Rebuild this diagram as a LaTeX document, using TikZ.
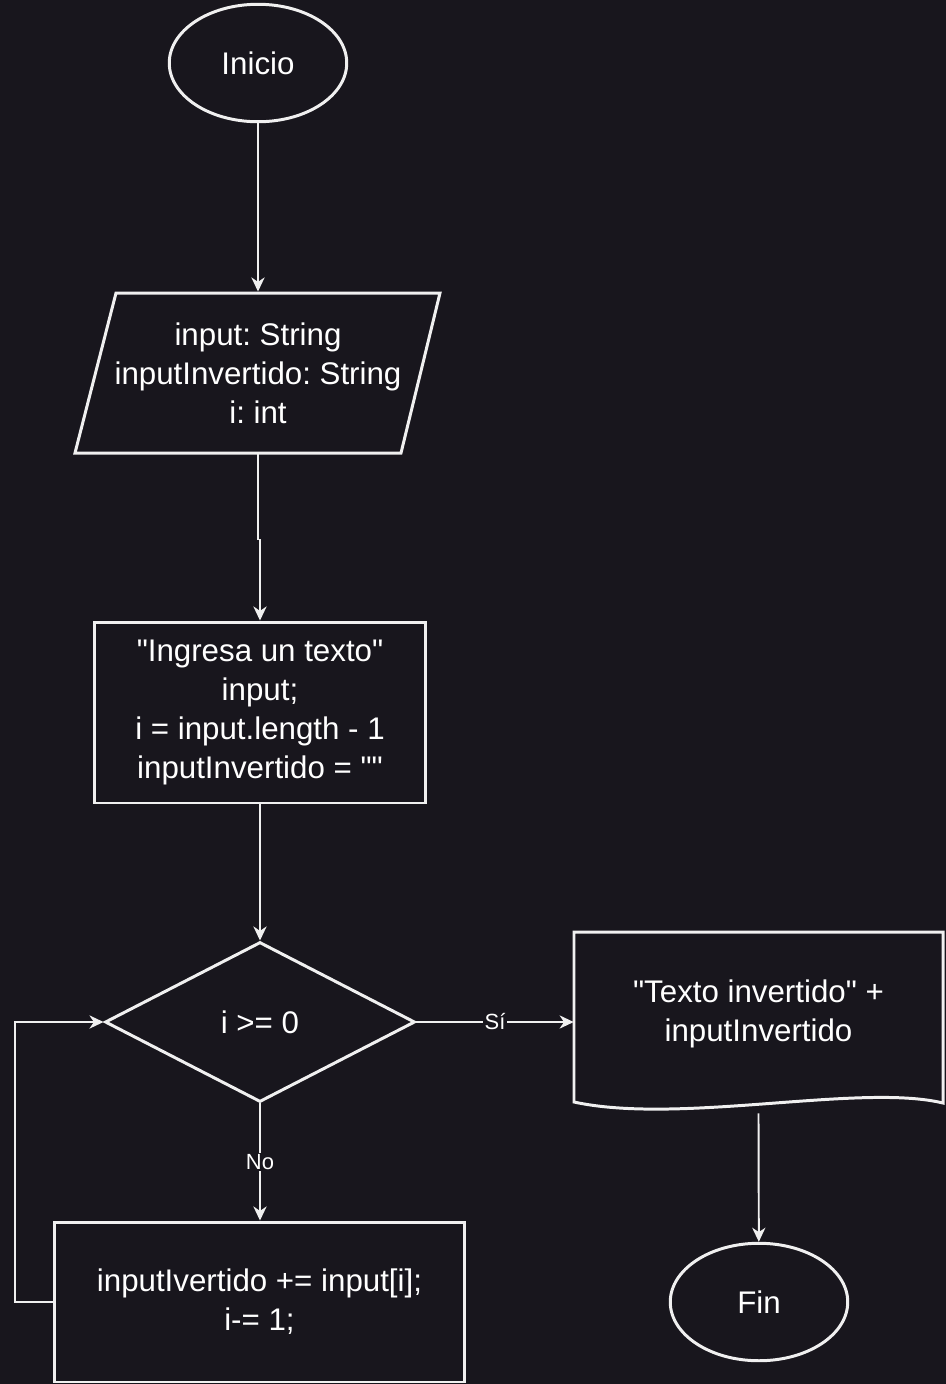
\documentclass[tikz,border=0pt]{standalone}
\usepackage{fontspec}
\setmainfont{Liberation Sans}
\usetikzlibrary{shapes.geometric,arrows.meta}
\definecolor{fondo}{RGB}{24,22,29}
\definecolor{trazo}{RGB}{240,240,240}
\newcommand{\comilla}{\textquotedbl}
\frenchspacing

\begin{document}
\begin{tikzpicture}[x=0.02cm,y=-0.02cm,
		caja/.style={draw=trazo,line width=1.7pt,fill=fondo,text=white,align=center,inner sep=0pt,font=\fontsize{17.8}{22.1}\selectfont},
		flujo/.style={draw=trazo,line width=1.1pt,-{Stealth[length=8pt,width=7.5pt,inset=2.5pt]}},
		etiqueta/.style={fill=fondo,text=white,inner sep=1pt,font=\fontsize{12.5}{15}\selectfont}]
		\path[use as bounding box,fill=fondo] (0,0) rectangle (946,1384);
		\node[caja,ellipse,minimum width=3.55cm,minimum height=2.35cm] (inicio) at (258,63) {Inicio};
		\draw[caja] (116,293) -- (440,293) -- (401,453) -- (75,453) -- cycle;
		\node[caja,draw=none,fill=none,minimum width=5cm,minimum height=3.2cm] (vars) at (258,373) {input: String\\inputInvertido: String\\i: int};
		\node[caja,minimum width=6.64cm,minimum height=3.62cm] (proc) at (260,712.5) {\comilla Ingresa un texto\comilla\\input;\\i = input.length - 1\\inputInvertido = \comilla\comilla};
		\node[caja,diamond,minimum width=6.2cm,minimum height=3.2cm] (cond) at (260,1022) {i >= 0};
		\node[caja,minimum width=8.22cm,minimum height=3.2cm] (ciclo) at (259.5,1302) {inputIvertido += input[i];\\i-= 1;};
		\draw[caja] (574,932) -- (943,932) -- (943,1103) .. controls (860,1083) and (680,1125) .. (574,1102) -- cycle;
		\node[minimum width=7.38cm,minimum height=3.62cm,inner sep=0pt] (salida) at (758.5,1022.5) {};
		\node[caja,draw=none,fill=none] (textosalida) at (758.5,1014) {\comilla Texto invertido\comilla{} +\\inputInvertido};
		\node[caja,ellipse,minimum width=3.55cm,minimum height=2.35cm] (fin) at (759,1302) {Fin};
		\coordinate (retorno) at (15,1022);
		\draw[flujo] (inicio) -- (vars);
		\draw[flujo] (vars.south) -- ++(0,85) -| (proc.north);
		\draw[flujo] (proc) -- (cond);
		\draw[flujo] (cond.east) -- node[etiqueta] {Sí} (cond.east -| salida.west);
		\draw[flujo] (cond.south) -- node[etiqueta] {No} (ciclo.north -| cond.south);
		\draw[flujo] (salida.south) -- (fin);
		\draw[flujo] (ciclo.west) -| (retorno) -- (cond.west);
	\end{tikzpicture}
\end{document}
